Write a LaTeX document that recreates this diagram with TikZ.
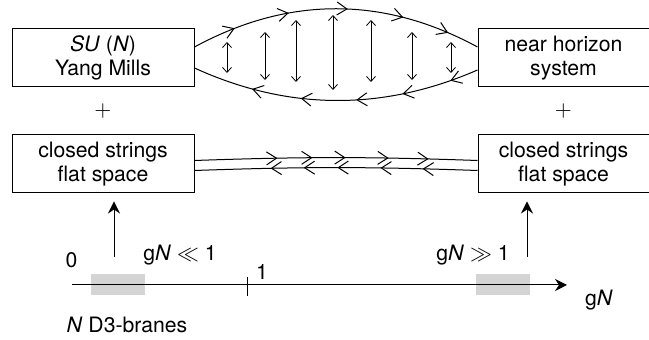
\documentclass[tikz,border=0pt]{standalone}
\usepackage{fontspec}
\setmainfont{TeX Gyre Heros}
\usepackage{amsmath}
\usetikzlibrary{positioning, arrows.meta, calc, decorations.markings}
\tikzset{
  box/.style={draw, line width=0.5pt, minimum width=91pt, minimum height=29pt, inner sep=0pt, align=center},
  rbox/.style={box, minimum width=85.5pt},
  plus/.style={inner sep=0pt},
  brane/.style={fill=black!17, draw=none, minimum width=27pt, minimum height=10.5pt, inner sep=0pt},
  lbl/.style={inner sep=0pt},
  barb/.tip={Straight Barb[length=5pt,width=6.5pt]},
  arr/.style={-{Stealth[length=6pt,width=6pt,inset=2pt]}, line width=0.5pt},
  oarr/.style={{Straight Barb[length=2.5pt,width=4.5pt]}-{Straight Barb[length=2.5pt,width=4.5pt]}, line width=0.4pt},
  flowtip/.style={postaction={decorate, decoration={markings, mark=at position #1 with {\arrow{barb}}}}},
  strand/.style={line width=0.5pt}
}
\begin{document}
\begin{tikzpicture}[x=0.5pt, y=-0.5pt, font=\fontsize{10.6pt}{12pt}\selectfont]
\useasboundingbox (0,0) rectangle (649,340);
% boxes
\node[box] (ysm) at (103,58) {\textit{SU} (\textit{N})\\Yang Mills};
\node[box, below=23.5pt of ysm] (cfl) {closed strings\\flat space};
\node[rbox, right=141.5pt of ysm] (nhs) {near horizon\\system};
\node[rbox, below=23.5pt of nhs] (cfr) {closed strings\\flat space};
\node[plus] (pl) at ($(ysm)!0.5!(cfl)$) {$+$};
\node[plus] (pr) at ($(nhs)!0.5!(cfr)$) {$+$};
% open strings between the upper boxes
\coordinate (lt) at ([yshift=5.5pt]ysm.east);
\coordinate (rt) at ([yshift=5.5pt]nhs.west);
\coordinate (lb) at ([yshift=-5pt]ysm.east);
\coordinate (rb) at ([yshift=-6pt]nhs.west);
\draw[strand, flowtip/.list={0.15,0.34,0.54,0.73,0.89}] (lt) .. controls +(94,-51) and +(-94,-51) .. (rt);
\draw[strand, flowtip/.list={0.10,0.27,0.43,0.62,0.79}] (rb) .. controls +(-94,41) and +(94,43) .. (lb);
\draw[oarr] (227,42) -- (227,73);
\draw[oarr] (265,32) -- (265,80);
\draw[oarr] (296,20) -- (296,82);
\draw[oarr] (333,15) -- (333,90);
\draw[oarr] (371,20) -- (371,82);
\draw[oarr] (412,32) -- (412,80);
\draw[oarr] (451,42) -- (451,73);
% closed strings between the lower boxes
\coordinate (slt) at ([yshift=1.75pt]cfl.east);
\coordinate (srt) at ([yshift=1.75pt]cfr.west);
\coordinate (slb) at ([yshift=-3.25pt]cfl.east);
\coordinate (srb) at ([yshift=-3.25pt]cfr.west);
\draw[strand, flowtip/.list={0.293,0.417,0.534,0.686,0.827}] (slt) to[bend left=2] (srt);
\draw[strand, flowtip/.list={0.194,0.343,0.495,0.614,0.731}] (srb) to[bend right=2] (slb);
% coupling axis
\node[brane] (lbr) at (118,284.5) {};
\node[brane] (rbr) at (503,284.5) {};
\coordinate (ax0) at (72,285);
\coordinate (ax1) at (567,285);
\draw[arr] (ax0) -- (ax1);
\coordinate (tk) at (247,285);
\draw[line width=0.5pt] (tk) ++(0,-8) -- ++(0,19);
\coordinate (lfoot) at (114,257);
\coordinate (rfoot) at (527,257);
\draw[arr, shorten >=4pt] (lfoot) -- (lfoot |- cfl.south);
\draw[arr, shorten >=4pt] (rfoot) -- (rfoot |- cfr.south);
\node[lbl] (zero) at (71.5,260) {0};
\node[lbl] (one) at (262,272) {1};
\node[lbl] (weak) at (180,255) {g\textit{N} $\ll$ 1};
\node[lbl] (strong) at (473,255) {g\textit{N} $\gg$ 1};
\node[lbl] (axlbl) at (599,300) {g\textit{N}};
\node[lbl] (dbr) at (127,325) {\textit{N} D3-branes};
\end{tikzpicture}
\end{document}
